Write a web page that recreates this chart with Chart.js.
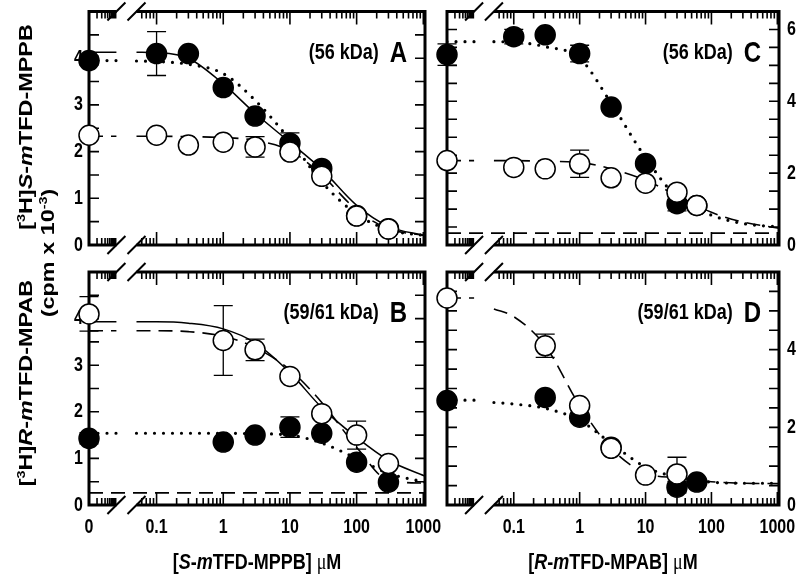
<!DOCTYPE html>
<html>
<head>
<meta charset="utf-8">
<script src="https://cdn.jsdelivr.net/npm/chart.js@4.4.1/dist/chart.umd.min.js"></script>
<style>
  body { margin: 0; background: #fff; }
  #wrap { position: relative; width: 800px; height: 576px; overflow: hidden;
          font-family: Arial, "Liberation Sans", sans-serif; font-weight: bold; color: #000; }
  #wrap canvas { position: absolute; left: 0; top: 0; }
  .t { position: absolute; white-space: nowrap; font-size: 18px; transform: translate(-50%, -50%) scaleY(1.25); }
  .rot { transform: translate(-50%, -50%) rotate(-90deg) scaleX(1.3); }
  .mu { font-family: "Liberation Serif", "DejaVu Serif", serif; font-weight: normal; }
  sup { font-size: 11px; vertical-align: 7px; line-height: 0; }
</style>
</head>
<body>
<div id="wrap">
  <canvas id="cA" width="800" height="576"></canvas>
  <canvas id="cB" width="800" height="576"></canvas>
  <canvas id="cC" width="800" height="576"></canvas>
  <canvas id="cD" width="800" height="576"></canvas>
  <div class="t rot" style="left:26px; top:127px;">[<sup>3</sup>H]<i>S</i>-<i>m</i>TFD-MPPB</div>
  <div class="t rot" style="left:48px; top:253px;">(cpm x 10<sup>-3</sup>)</div>
  <div class="t rot" style="left:26px; top:383px;">[<sup>3</sup>H]<i>R</i>-<i>m</i>TFD-MPAB</div>
  <div class="t" style="left:257px; top:562px;">[<i>S</i>-<i>m</i>TFD-MPPB] <span class="mu">μ</span>M</div>
  <div class="t" style="left:613px; top:562px;">[<i>R</i>-<i>m</i>TFD-MPAB] <span class="mu">μ</span>M</div>
</div>
<script>
// x axis: log scale, the "0" concentration sits on the left edge, then an axis break
const X_MIN = 0.0097, X_MAX = 1060;
const BREAK_LO = 0.025, BREAK_HI = 0.05;
const X_TICK_VALUES = [0.1, 1, 10, 100, 1000];
const X_TICK_LABELS = ['0.1', '1', '10', '100', '1000'];

const CURVE_X = [0.05, 0.1, 0.3, 1, 3, 10, 30, 100, 300, 1060];

// Panel A: [3H]S-mTFD-MPPB, 56 kDa band
const A_CONC = [0, 0.1, 0.3, 1, 3, 10, 30, 100, 300];
const A_FILLED = [3.95, 4.10, 4.10, 3.37, 2.76, 2.18, 1.64, 0.63, 0.35];
const A_FILLED_ERR = [0.1, 0.47, 0, 0, 0, 0.22, 0.08, 0, 0];
const A_OPEN = [2.35, 2.35, 2.14, 2.20, 2.10, 1.99, 1.47, 0.62, 0.34];
const A_OPEN_ERR = [0, 0, 0, 0, 0.22, 0, 0, 0, 0];
const A_SOLID_0 = 4.13, A_SOLID = [4.13, 4.12, 4.00, 3.45, 2.82, 2.20, 1.62, 0.85, 0.40, 0.20];
const A_DOTTED_0 = 3.95, A_DOTTED = [3.94, 3.93, 3.87, 3.67, 3.10, 2.25, 1.35, 0.66, 0.33, 0.20];
const A_DASHED_0 = 2.33, A_DASHED = [2.33, 2.33, 2.32, 2.30, 2.24, 2.02, 1.50, 0.75, 0.35, 0.20];

// Panel B: [3H]R-mTFD-MPAB, 59/61 kDa band
const B_CONC = [0, 1, 3, 10, 30, 100, 300];
const B_OPEN = [4.10, 3.53, 3.33, 2.76, 1.96, 1.50, 0.89];
const B_OPEN_ERR = [0.37, 0.75, 0.23, 0, 0, 0.30, 0];
const B_FILLED = [1.43, 1.35, 1.50, 1.67, 1.54, 0.92, 0.49];
const B_FILLED_ERR = [0.12, 0, 0, 0.22, 0, 0, 0];
const B_SOLID_0 = 3.93, B_SOLID = [3.93, 3.93, 3.90, 3.78, 3.48, 2.84, 2.09, 1.45, 0.96, 0.62];
const B_DASHED_0 = 3.74, B_DASHED = [3.74, 3.74, 3.72, 3.62, 3.38, 2.90, 2.20, 1.24, 0.53, 0.47];
const B_DOTTED_0 = 1.54, B_DOTTED = [1.54, 1.54, 1.54, 1.54, 1.53, 1.50, 1.33, 1.00, 0.68, 0.49];
const B_BASELINE = 0.26;

// Panel C: [3H]S-mTFD-MPPB, 56 kDa band
const C_CONC = [0, 0.1, 0.3, 1, 3, 10, 30, 60];
const C_FILLED = [5.30, 5.80, 5.85, 5.33, 3.84, 2.27, 1.15, 1.10];
const C_FILLED_ERR = [0.30, 0.20, 0, 0.23, 0, 0, 0.20, 0];
const C_OPEN = [2.35, 2.16, 2.12, 2.26, 1.87, 1.72, 1.47, 1.10];
const C_OPEN_ERR = [0, 0, 0, 0.38, 0, 0, 0, 0];
const C_DOTTED_0 = 5.66, C_DOTTED = [5.66, 5.65, 5.52, 5.20, 3.95, 2.43, 1.33, 0.83, 0.60, 0.50];
const C_DASHED_0 = 2.35, C_DASHED = [2.35, 2.35, 2.33, 2.30, 2.12, 1.80, 1.38, 0.91, 0.64, 0.47];
const C_BASELINE = 0.33;

// Panel D: [3H]R-mTFD-MPAB, 59/61 kDa band
const D_OPEN_CONC = [0, 0.3, 1, 3, 10, 30];
const D_OPEN = [5.33, 4.10, 2.56, 1.46, 0.77, 0.80];
const D_OPEN_ERR = [0, 0.30, 0, 0, 0, 0.43];
const D_FILLED_CONC = [0, 0.3, 1, 3, 30, 60];
const D_FILLED = [2.69, 2.77, 2.26, 1.49, 0.46, 0.59];
const D_FILLED_ERR = [0, 0, 0, 0, 0.15, 0];
const D_DASHED_0 = 5.33, D_DASHED = [5.05, 4.85, 4.10, 2.56, 1.46, 0.82, 0.70, 0.60, 0.56, 0.55];
const D_DOTTED_0 = 2.70, D_DOTTED = [2.64, 2.60, 2.49, 2.18, 1.59, 0.98, 0.72, 0.59, 0.56, 0.56];

const FONT = 'Arial, "Liberation Sans", sans-serif';
const TEXT_STRETCH = 1.25;   // reference lettering is tall and narrow

function points(conc, vals) {
  return conc.map((c, i) => ({ x: c === 0 ? X_MIN : c, y: vals[i] }));
}

function curve(zeroVal, vals) {
  const pts = [{ x: X_MIN, y: zeroVal }, { x: BREAK_LO, y: zeroVal }, { x: 0.035, y: null }];
  CURVE_X.forEach((c, i) => pts.push({ x: c, y: vals[i] }));
  return pts;
}

function markers(conc, vals, errs, filled) {
  return {
    data: points(conc, vals), errors: errs, showLine: false,
    pointRadius: 10, pointHoverRadius: 10, pointBorderWidth: 1.5,
    pointBorderColor: '#000', pointBackgroundColor: filled ? '#000' : '#fff',
    clip: false
  };
}

function line(data, style) {
  const ds = { data: data, pointRadius: 0, borderColor: '#000', fill: false,
               cubicInterpolationMode: 'monotone', spanGaps: false };
  if (style === 'solid') { ds.borderWidth = 1.5; }
  if (style === 'dashed') { ds.borderWidth = 1.6; ds.borderDash = [14, 8]; }
  if (style === 'dotted') { ds.borderWidth = 3.2; ds.borderDash = [0, 9]; ds.borderCapStyle = 'round'; }
  return ds;
}

function flat(value) {
  return [{ x: X_MIN, y: value }, { x: X_MAX, y: value }];
}

function tallText(ctx, text, x, y) {
  ctx.save();
  ctx.translate(x, y);
  ctx.scale(1, TEXT_STRETCH);
  ctx.fillText(text, 0, 0);
  ctx.restore();
}

// frame, inward ticks, tick labels, axis break and error bars
const framePlugin = {
  id: 'frame',
  beforeDatasetsDraw(chart, args, opts) {
    const ctx = chart.ctx, xs = chart.scales.x, ys = chart.scales.y;
    const a = chart.chartArea;
    const xLo = xs.getPixelForValue(BREAK_LO), xHi = xs.getPixelForValue(BREAK_HI);
    ctx.save();
    ctx.strokeStyle = '#000';
    ctx.fillStyle = '#000';

    // ticks on x (top and bottom)
    ctx.lineWidth = 1.6;
    const xt = [];
    for (let k = 2; k <= 10; k++) xt.push({ v: X_MIN * Math.pow(k, 0.4), len: 7 });
    for (let e = -2; e <= 3; e++) {
      for (let m = 1; m <= 9; m++) {
        const v = m * Math.pow(10, e);
        if (v <= BREAK_HI * 1.01 || v > X_MAX) continue;
        xt.push({ v: v, len: m === 1 ? 13 : 7 });
      }
    }
    ctx.beginPath();
    xt.forEach(t => {
      const px = xs.getPixelForValue(t.v);
      ctx.moveTo(px, a.bottom); ctx.lineTo(px, a.bottom - t.len);
      ctx.moveTo(px, a.top); ctx.lineTo(px, a.top + t.len);
    });
    // ticks on y (left and right)
    for (let v = opts.yStep; v < ys.max - 0.01; v += opts.yStep) {
      const py = ys.getPixelForValue(v);
      ctx.moveTo(a.left, py); ctx.lineTo(a.left + 10, py);
      ctx.moveTo(a.right, py); ctx.lineTo(a.right - 10, py);
    }
    ctx.stroke();

    // frame with a gap at the break
    ctx.lineWidth = 3;
    ctx.lineJoin = 'miter';
    ctx.beginPath();
    ctx.moveTo(xLo, a.top); ctx.lineTo(a.left, a.top); ctx.lineTo(a.left, a.bottom); ctx.lineTo(xLo, a.bottom);
    ctx.moveTo(xHi, a.top); ctx.lineTo(a.right, a.top); ctx.lineTo(a.right, a.bottom); ctx.lineTo(xHi, a.bottom);
    ctx.stroke();
    ctx.lineWidth = 2;
    ctx.beginPath();
    [xLo, xHi].forEach(px => {
      [a.top, a.bottom].forEach(py => {
        ctx.moveTo(px - 9, py + 9); ctx.lineTo(px + 9, py - 9);
      });
    });
    ctx.stroke();

    // tick labels
    ctx.font = 'bold 16px ' + FONT;
    ctx.textBaseline = 'middle';
    if (opts.xLabels) {
      ctx.textAlign = 'center';
      X_TICK_VALUES.forEach((v, i) => tallText(ctx, X_TICK_LABELS[i], xs.getPixelForValue(v), a.bottom + 22));
      if (opts.zeroLabel) tallText(ctx, '0', a.left, a.bottom + 22);
    }
    opts.yLabels.forEach(v => {
      const py = ys.getPixelForValue(v);
      if (opts.side === 'left') { ctx.textAlign = 'right'; tallText(ctx, String(v), a.left - 6, py); }
      else { ctx.textAlign = 'left'; tallText(ctx, String(v), a.right + 8, py); }
    });

    // panel annotation
    ctx.textAlign = 'right';
    ctx.font = 'bold 24px ' + FONT;
    const letterRight = a.right - 18;
    tallText(ctx, opts.tag, letterRight, a.top + 42);
    const lw = ctx.measureText(opts.tag).width;
    ctx.font = 'bold 18px ' + FONT;
    tallText(ctx, opts.mass, letterRight - lw - 11, a.top + 41);

    // error bars (behind the markers)
    ctx.lineWidth = 1.3;
    ctx.beginPath();
    chart.data.datasets.forEach((ds, di) => {
      if (!ds.errors) return;
      const meta = chart.getDatasetMeta(di);
      ds.errors.forEach((err, i) => {
        if (!err) return;
        const px = meta.data[i].x;
        const y1 = ys.getPixelForValue(ds.data[i].y + err), y2 = ys.getPixelForValue(ds.data[i].y - err);
        ctx.moveTo(px, y1); ctx.lineTo(px, y2);
        ctx.moveTo(px - 9.5, y1); ctx.lineTo(px + 9.5, y1);
        ctx.moveTo(px - 9.5, y2); ctx.lineTo(px + 9.5, y2);
      });
    });
    ctx.stroke();
    ctx.restore();
  }
};

function makePanel(canvasId, rect, yMax, frameOpts, datasets) {
  new Chart(document.getElementById(canvasId), {
    type: 'line',
    data: { datasets: datasets },
    options: {
      responsive: false,
      animation: false,
      events: [],
      layout: { padding: { left: rect[0], top: rect[1], right: 800 - rect[2], bottom: 576 - rect[3] } },
      scales: {
        x: { type: 'logarithmic', min: X_MIN, max: X_MAX, bounds: 'data', display: false },
        y: { type: 'linear', min: 0, max: yMax, bounds: 'data', display: false }
      },
      plugins: { legend: { display: false }, tooltip: { enabled: false }, frame: frameOpts }
    },
    plugins: [framePlugin]
  });
}

makePanel('cA', [89, 11, 425, 245], 5.0,
  { yStep: 0.5, yLabels: [0, 1, 2, 3, 4], side: 'left', xLabels: false, tag: 'A', mass: '(56 kDa)' },
  [
    markers(A_CONC, A_OPEN, A_OPEN_ERR, false),
    markers(A_CONC, A_FILLED, A_FILLED_ERR, true),
    line(curve(A_SOLID_0, A_SOLID), 'solid'),
    line(curve(A_DOTTED_0, A_DOTTED), 'dotted'),
    line(curve(A_DASHED_0, A_DASHED), 'dashed')
  ]);

makePanel('cB', [89, 272, 425, 505], 5.0,
  { yStep: 0.5, yLabels: [0, 1, 2, 3, 4], side: 'left', xLabels: true, zeroLabel: true, tag: 'B', mass: '(59/61 kDa)' },
  [
    markers(B_CONC, B_OPEN, B_OPEN_ERR, false),
    markers(B_CONC, B_FILLED, B_FILLED_ERR, true),
    line(curve(B_SOLID_0, B_SOLID), 'solid'),
    line(curve(B_DASHED_0, B_DASHED), 'dashed'),
    line(curve(B_DOTTED_0, B_DOTTED), 'dotted'),
    line(flat(B_BASELINE), 'dashed')
  ]);

makePanel('cC', [447, 11, 779, 245], 6.5,
  { yStep: 0.5, yLabels: [0, 2, 4, 6], side: 'right', xLabels: false, tag: 'C', mass: '(56 kDa)' },
  [
    markers(C_CONC, C_OPEN, C_OPEN_ERR, false),
    markers(C_CONC, C_FILLED, C_FILLED_ERR, true),
    line(curve(C_DOTTED_0, C_DOTTED), 'dotted'),
    line(curve(C_DASHED_0, C_DASHED), 'dashed'),
    line(flat(C_BASELINE), 'dashed')
  ]);

makePanel('cD', [447, 272, 779, 505], 6.0,
  { yStep: 0.5, yLabels: [0, 2, 4], side: 'right', xLabels: true, zeroLabel: false, tag: 'D', mass: '(59/61 kDa)' },
  [
    markers(D_OPEN_CONC, D_OPEN, D_OPEN_ERR, false),
    markers(D_FILLED_CONC, D_FILLED, D_FILLED_ERR, true),
    line(curve(D_DASHED_0, D_DASHED), 'dashed'),
    line(curve(D_DOTTED_0, D_DOTTED), 'dotted')
  ]);
</script>
</body>
</html>
